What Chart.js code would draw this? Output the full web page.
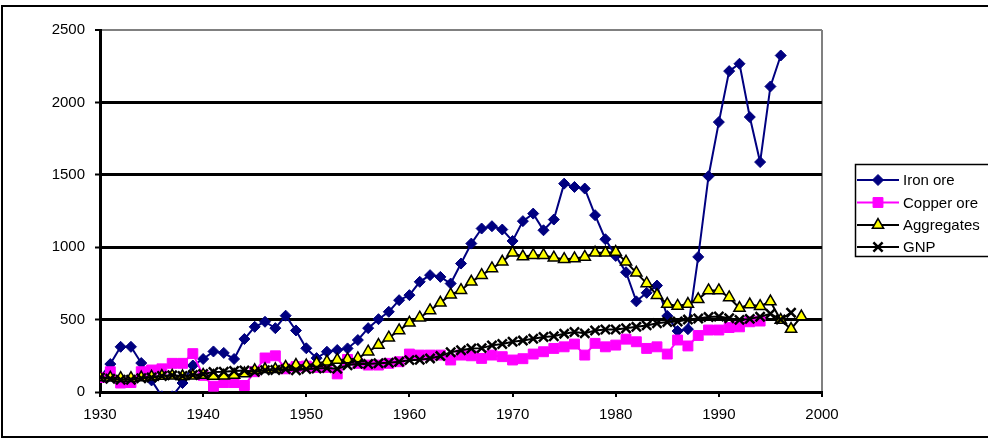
<!DOCTYPE html>
<html>
<head>
<meta charset="utf-8">
<script src="https://cdn.jsdelivr.net/npm/chart.js@4.4.1/dist/chart.umd.min.js"></script>
<style>
  html, body { margin: 0; padding: 0; background: #fff; overflow: hidden; }
  #wrap { position: relative; width: 988px; height: 439px; }
</style>
</head>
<body>
<div id="wrap"><canvas id="c" width="988" height="439"></canvas></div>
<script>
// Index series, 1930 = 100
const years = [
  1930, 1931, 1932, 1933, 1934, 1935, 1936, 1937, 1938, 1939,
  1940, 1941, 1942, 1943, 1944, 1945, 1946, 1947, 1948, 1949,
  1950, 1951, 1952, 1953, 1954, 1955, 1956, 1957, 1958, 1959,
  1960, 1961, 1962, 1963, 1964, 1965, 1966, 1967, 1968, 1969,
  1970, 1971, 1972, 1973, 1974, 1975, 1976, 1977, 1978, 1979,
  1980, 1981, 1982, 1983, 1984, 1985, 1986, 1987, 1988, 1989,
  1990, 1991, 1992, 1993, 1994, 1995, 1996, 1997, 1998
];

const ironOre = [
  100, 193, 312, 312, 200, 80, -30, -30, 62, 183,
  228, 280, 270, 228, 366, 450, 485, 441, 527, 425,
  302, 234, 278, 290, 301, 359, 441, 503, 554, 634,
  669, 761, 807, 795, 749, 887, 1025, 1129, 1145, 1122,
  1043, 1180, 1232, 1117, 1191, 1439, 1416, 1405, 1221, 1055,
  940, 827, 626, 685, 735, 525, 421, 434, 933, 1490,
  1864, 2216, 2267, 1899, 1588, 2110, 2324, null, null
];

const copperOre = [
  100, 140, 62, 65, 140, 152, 160, 198, 198, 265,
  115, 40, 65, 65, 45, 140, 235, 250, 160, 175,
  179, 170, 170, 125, 225, 198, 186, 186, 198, 209,
  262, 255, 255, 255, 221, 255, 250, 232, 255, 244,
  221, 230, 262, 278, 301, 312, 331, 255, 336, 312,
  324, 365, 347, 301, 312, 262, 359, 318, 390, 428,
  428, 445, 450, 485, 490, null, null, null, null
];

const aggregates = [
  100, 98, 95, 95, 100, 105, 110, 112, 108, 112,
  118, 110, 112, 118, 128, 150, 157, 157, 172, 186,
  183, 198, 209, 221, 225, 232, 278, 324, 375, 425,
  478, 513, 563, 616, 672, 703, 761, 807, 853, 899,
  961, 935, 945, 945, 928, 917, 922, 933, 961, 961,
  966, 899, 823, 750, 669, 607, 594, 607, 640, 701,
  701, 653, 580, 604, 593, 625, 497, 435, 521
];

const gnp = [
  100, 92, 85, 85, 95, 100, 110, 115, 110, 118,
  125, 138, 140, 145, 148, 140, 150, 152, 158, 150,
  158, 162, 165, 160, 185, 195, 193, 198, 202, 209,
  220, 222, 232, 248, 275, 288, 300, 303, 322, 332,
  347, 355, 368, 380, 385, 403, 414, 405, 425, 432,
  432, 440, 450, 460, 475, 483, 487, 500, 507, 518,
  522, 510, 498, 505, 520, 540, 500, 548, null
];

const seriesNames = ['Iron ore', 'Copper ore', 'Aggregates', 'GNP'];
const yTicks = [0, 500, 1000, 1500, 2000, 2500];
const xTicks = [1930, 1940, 1950, 1960, 1970, 1980, 1990, 2000];

const FONT = '"Liberation Sans", Arial, sans-serif';

function points(values) {
  return years.map((yr, i) => ({ x: yr, y: values[i] }));
}

const styles = [
  { color: '#000080', pointStyle: 'rectRot', radius: 5.5, fill: '#000080', stroke: '#000080', bw: 1 },
  { color: '#FF00FF', pointStyle: 'rect', radius: 7, fill: '#FF00FF', stroke: '#FF00FF', bw: 1 },
  { color: '#000000', pointStyle: 'triangle', radius: 6.5, fill: '#FFFF00', stroke: '#000000', bw: 1.5 },
  { color: '#000000', pointStyle: 'crossRot', radius: 6.5, fill: '#000000', stroke: '#000000', bw: 2.5 }
];

const seriesValues = [ironOre, copperOre, aggregates, gnp];

const datasets = seriesValues.map((vals, i) => ({
  label: seriesNames[i],
  data: points(vals),
  borderColor: styles[i].color,
  borderWidth: 2,
  tension: 0,
  pointStyle: styles[i].pointStyle,
  pointRadius: styles[i].radius,
  pointBackgroundColor: styles[i].fill,
  pointBorderColor: styles[i].stroke,
  pointBorderWidth: styles[i].bw,
  order: seriesValues.length - i
}));

// Outer frame of the chart
const framePlugin = {
  id: 'frame',
  beforeDraw(chart) {
    const ctx = chart.ctx;
    ctx.save();
    ctx.fillStyle = '#fff';
    ctx.fillRect(0, 0, chart.width, chart.height);
    ctx.strokeStyle = '#000';
    ctx.lineWidth = 2;
    ctx.strokeRect(2, 6, 1100, 431);
    ctx.restore();
  }
};

// Boxed legend on the right
const legendPlugin = {
  id: 'boxLegend',
  afterDraw(chart) {
    const ctx = chart.ctx;
    const left = 855.5, top = 164.5, rowY = [180, 202.5, 225, 247];
    ctx.save();
    ctx.fillStyle = '#fff';
    ctx.fillRect(left, top, 200, 92);
    ctx.strokeStyle = '#000';
    ctx.lineWidth = 1.5;
    ctx.strokeRect(left, top, 200, 92);
    seriesNames.forEach((name, i) => {
      const s = styles[i];
      const y = rowY[i];
      ctx.strokeStyle = s.color;
      ctx.lineWidth = 2;
      ctx.beginPath();
      ctx.moveTo(857, y);
      ctx.lineTo(899, y);
      ctx.stroke();
      ctx.fillStyle = s.fill;
      ctx.strokeStyle = s.stroke;
      ctx.lineWidth = s.bw;
      Chart.helpers.drawPoint(ctx, {
        pointStyle: s.pointStyle, radius: s.radius, rotation: 0, borderWidth: s.bw
      }, 878, y);
      ctx.fillStyle = '#000';
      ctx.font = '15px ' + FONT;
      ctx.textAlign = 'left';
      ctx.textBaseline = 'middle';
      ctx.fillText(name, 903, y + 1);
    });
    ctx.restore();
  }
};

new Chart(document.getElementById('c'), {
  type: 'line',
  data: { datasets },
  options: {
    responsive: false,
    animation: false,
    events: [],
    layout: { padding: { left: 0, top: 30, right: 988 - 822, bottom: 0 } },
    plugins: { legend: { display: false }, tooltip: { enabled: false } },
    scales: {
      x: {
        type: 'linear',
        min: xTicks[0],
        max: xTicks[xTicks.length - 1],
        afterBuildTicks(scale) { scale.ticks = xTicks.map(v => ({ value: v })); },
        afterFit(scale) { scale.height = 47; },
        ticks: {
          color: '#000',
          font: { family: FONT, size: 15 },
          padding: 9,
          maxRotation: 0,
          autoSkip: false,
          callback: v => String(v)
        },
        grid: {
          drawOnChartArea: true,
          color: ctx => (ctx.tick && ctx.tick.value === 2000) ? '#808080' : 'rgba(0,0,0,0)',
          lineWidth: 2,
          tickColor: '#000',
          tickWidth: 2,
          tickLength: 5
        },
        border: { display: true, color: '#000', width: 3 }
      },
      y: {
        type: 'linear',
        min: yTicks[0],
        max: yTicks[yTicks.length - 1],
        afterBuildTicks(scale) { scale.ticks = yTicks.map(v => ({ value: v })); },
        afterFit(scale) { scale.width = 100; },
        ticks: {
          color: '#000',
          font: { family: FONT, size: 15 },
          padding: 10,
          callback: v => String(v)
        },
        grid: {
          color: ctx => (ctx.tick && ctx.tick.value === 2500) ? '#808080' : '#000',
          lineWidth: ctx => (ctx.tick && ctx.tick.value === 2500) ? 2 : 3,
          tickColor: '#000',
          tickWidth: 2,
          tickLength: 5
        },
        border: { display: true, color: '#000', width: 3 }
      }
    }
  },
  plugins: [framePlugin, legendPlugin]
});
</script>
</body>
</html>
